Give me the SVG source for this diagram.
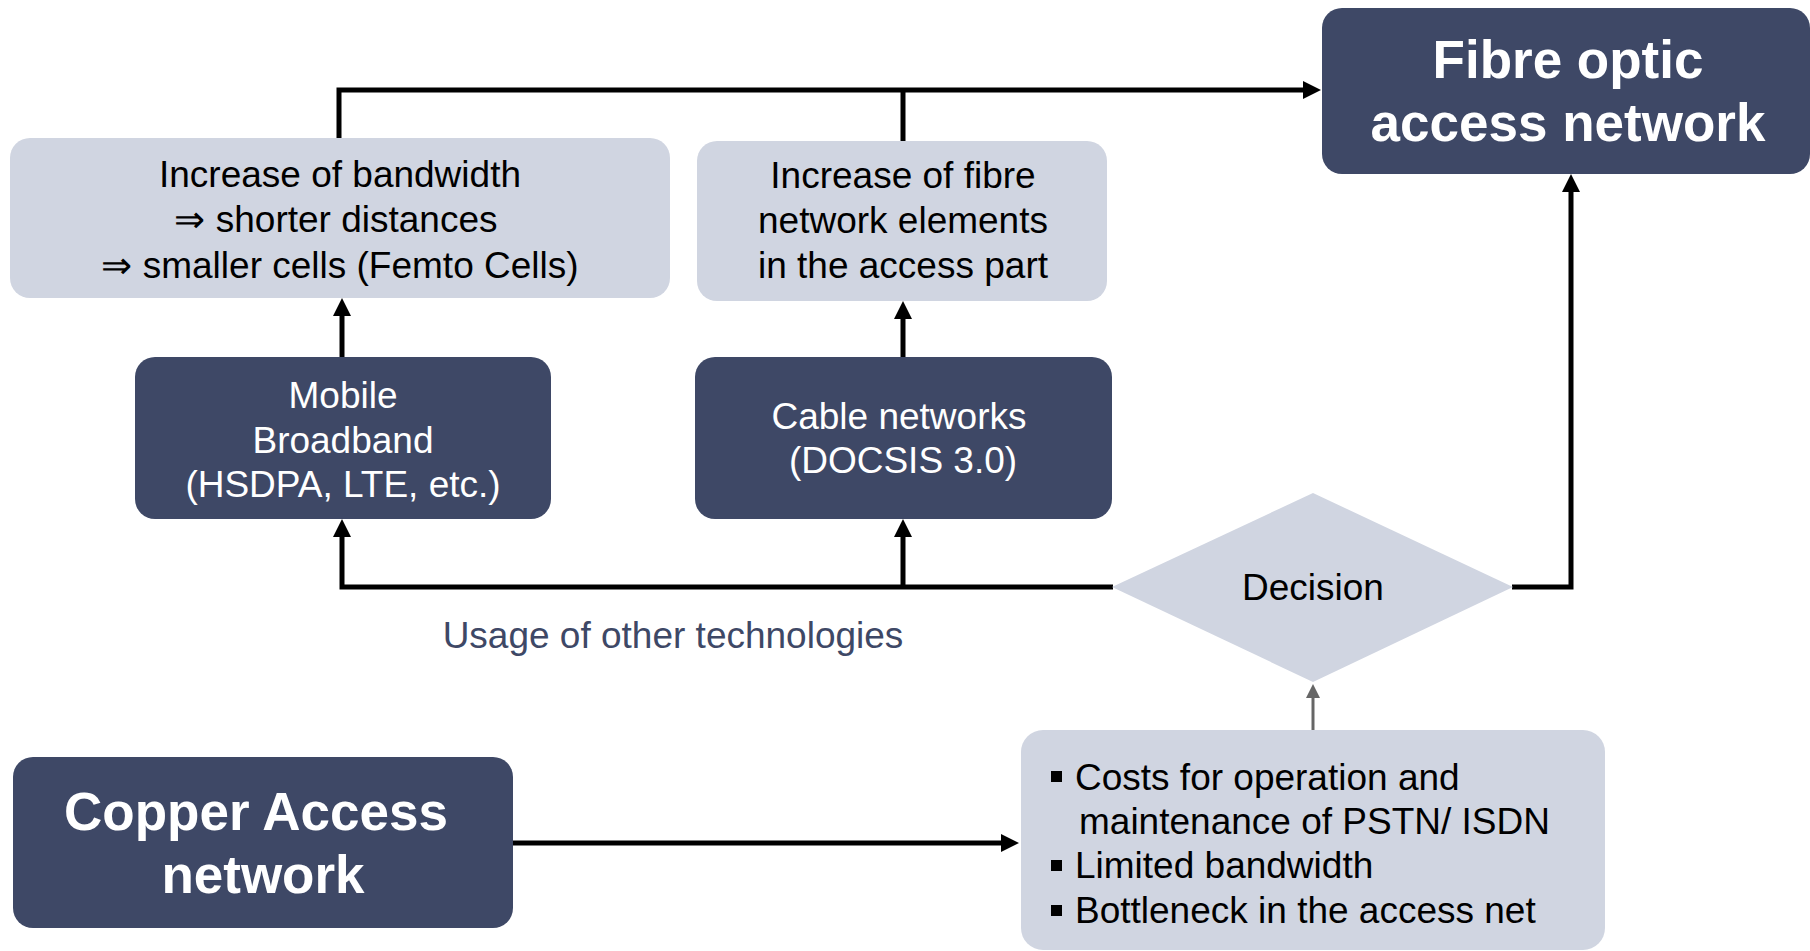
<svg xmlns="http://www.w3.org/2000/svg" width="1810" height="951" viewBox="0 0 1810 951">
<style>
.dark{fill:#3e4866}
.light{fill:#d0d5e1}
text{font-family:"Liberation Sans",Arial,sans-serif}
.t{font-size:37px;fill:#000;text-anchor:middle}
.tw{font-size:37px;fill:#fff;text-anchor:middle}
.big{font-size:53px;font-weight:bold;fill:#fff;text-anchor:middle}
.tl{font-size:37px;fill:#000}
.lbl{font-size:37px;fill:#3e4866;text-anchor:middle}
.c{fill:none;stroke:#000;stroke-width:5}
.g{fill:none;stroke:#666;stroke-width:3}
</style>
<defs>
<marker id="ah" markerUnits="userSpaceOnUse" markerWidth="18" markerHeight="18" refX="8" refY="9" orient="auto">
<path d="M0,0 L18,9 L0,18 z" fill="#000"/>
</marker>
<marker id="ahg" markerUnits="userSpaceOnUse" markerWidth="14" markerHeight="16" refX="6" refY="8" orient="auto">
<path d="M0,1 L14,8 L0,15 z" fill="#666"/>
</marker>
</defs>
<rect width="1810" height="951" fill="#fff"/>

<g id="connectors">
<path class="c" d="M339,138 V90 H1311" marker-end="url(#ah)"/>
<path class="c" d="M903,141 V90"/>
<path class="c" d="M342,357 V308" marker-end="url(#ah)"/>
<path class="c" d="M903,358 V311" marker-end="url(#ah)"/>
<path class="c" d="M1113,587 H342 V529" marker-end="url(#ah)"/>
<path class="c" d="M903,587 V529" marker-end="url(#ah)"/>
<path class="c" d="M1512,587 H1571 V184" marker-end="url(#ah)"/>
<path class="c" d="M513,843 H1009" stroke-width="6" marker-end="url(#ah)"/>
<path class="g" d="M1313,730 V692" marker-end="url(#ahg)"/>
</g>

<g id="fibre">
<rect class="dark" x="1322" y="8" width="488" height="166" rx="20"/>
<text class="big" x="1568" y="78">Fibre optic</text>
<text class="big" x="1568" y="141">access network</text>
</g>

<g id="bandwidth">
<rect class="light" x="10" y="138" width="660" height="160" rx="20"/>
<text class="t" x="340" y="187">Increase of bandwidth</text>
<text class="t" x="336" y="232">⇒ shorter distances</text>
<text class="t" x="340" y="278">⇒ smaller cells (Femto Cells)</text>
</g>

<g id="fibre-elements">
<rect class="light" x="697" y="141" width="410" height="160" rx="20"/>
<text class="t" x="903" y="188">Increase of fibre</text>
<text class="t" x="903" y="233">network elements</text>
<text class="t" x="903" y="278">in the access part</text>
</g>

<g id="mobile">
<rect class="dark" x="135" y="357" width="416" height="162" rx="20"/>
<text class="tw" x="343" y="408">Mobile</text>
<text class="tw" x="343" y="453">Broadband</text>
<text class="tw" x="343" y="497">(HSDPA, LTE, etc.)</text>
</g>

<g id="cable">
<rect class="dark" x="695" y="357" width="417" height="162" rx="20"/>
<text class="tw" x="899" y="429">Cable networks</text>
<text class="tw" x="903" y="473">(DOCSIS 3.0)</text>
</g>

<g id="decision">
<polygon class="light" points="1313,493 1513,587 1313,682 1112,587"/>
<text class="t" x="1313" y="600">Decision</text>
</g>

<g id="usage-label">
<text class="lbl" x="673" y="648">Usage of other technologies</text>
</g>

<g id="copper">
<rect class="dark" x="13" y="757" width="500" height="171" rx="20"/>
<text class="big" x="256" y="830">Copper Access</text>
<text class="big" x="263" y="893">network</text>
</g>

<g id="costs">
<rect class="light" x="1021" y="730" width="584" height="220" rx="22"/>
<rect x="1051" y="771" width="11" height="11" fill="#000"/>
<text class="tl" x="1075" y="790">Costs for operation and</text>
<text class="tl" x="1079" y="834">maintenance of PSTN/ ISDN</text>
<rect x="1051" y="860" width="11" height="11" fill="#000"/>
<text class="tl" x="1075" y="878">Limited bandwidth</text>
<rect x="1051" y="905" width="11" height="11" fill="#000"/>
<text class="tl" x="1075" y="923">Bottleneck in the access net</text>
</g>
</svg>
